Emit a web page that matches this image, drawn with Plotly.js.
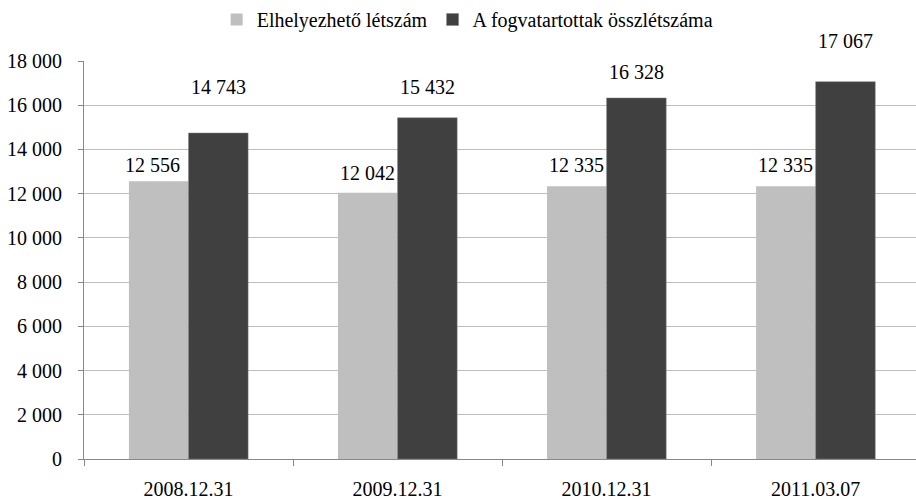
<!DOCTYPE html>
<html><head><meta charset="utf-8">
<script src="https://cdn.plot.ly/plotly-3.0.1.min.js"></script>
<style>html,body{margin:0;padding:0;background:#fff}#chart{width:916px;height:503px}</style>
</head><body><div id="chart"></div>
<script>
const categories = ["2008.12.31", "2009.12.31", "2010.12.31", "2011.03.07"];
const seriesNames = ["Elhelyezhető létszám", "A fogvatartottak összlétszáma"];
const capacity = [12556, 12042, 12335, 12335];
const inmates = [14743, 15432, 16328, 17067];
const yTicks = [0, 2000, 4000, 6000, 8000, 10000, 12000, 14000, 16000, 18000];

const fmt = v => String(v).replace(/\B(?=(\d{3})+(?!\d))/g, ' ');
const font = {family: "Liberation Serif", size: 20, color: "#000"};

// label offsets (px above bar top), as placed in the original
const capShift = [16, 20, 21, 21];
const capDx = [-6, 0, 0, 0];
const inmShift = [46, 31, 26, 41];

const annotations = [];
categories.forEach((c, i) => {
  annotations.push({x: c, y: capacity[i], xref: 'x', yref: 'y', text: fmt(capacity[i]),
    showarrow: false, xshift: -30 + capDx[i], yshift: capShift[i], font: font});
  annotations.push({x: c, y: inmates[i], xref: 'x', yref: 'y', text: fmt(inmates[i]),
    showarrow: false, xshift: 30, yshift: inmShift[i], font: font});
});

const data = [
  {type: 'bar', name: seriesNames[0], x: categories, y: capacity, marker: {color: '#BFBFBF'}},
  {type: 'bar', name: seriesNames[1], x: categories, y: inmates, marker: {color: '#404040', line: {color: '#7f7f7f', width: 0.5}}}
];

const layout = {
  width: 916, height: 503,
  margin: {l: 84, r: 0, t: 61, b: 44},
  paper_bgcolor: '#fff', plot_bgcolor: '#fff',
  separators: ', ',
  font: font,
  barmode: 'group', bargap: 0.43, bargroupgap: 0,
  showlegend: true,
  legend: {orientation: 'h', xref: 'container', yref: 'container', x: 0.51, xanchor: 'center', y: 1.0, yanchor: 'top',
    font: font, itemwidth: 30, traceorder: 'normal'},
  xaxis: {type: 'category', range: [-0.5, 3.48], tickson: 'boundaries', ticks: 'outside', ticklen: 6,
    tickcolor: '#888', showline: true, linecolor: '#888', linewidth: 1, showgrid: false, tickfont: font,
    ticklabelstandoff: 12, fixedrange: true},
  yaxis: {range: [0, 18000], tickvals: yTicks, tickformat: ',d', ticks: 'outside', ticklen: 5, tickcolor: '#888',
    showline: true, linecolor: '#888', gridcolor: '#BEBEBE', gridwidth: 1, zeroline: false, tickfont: font,
    ticklabelstandoff: 12, fixedrange: true},
  annotations: annotations
};
Plotly.newPlot('chart', data, layout, {displayModeBar: false, staticPlot: true});
</script></body></html>
